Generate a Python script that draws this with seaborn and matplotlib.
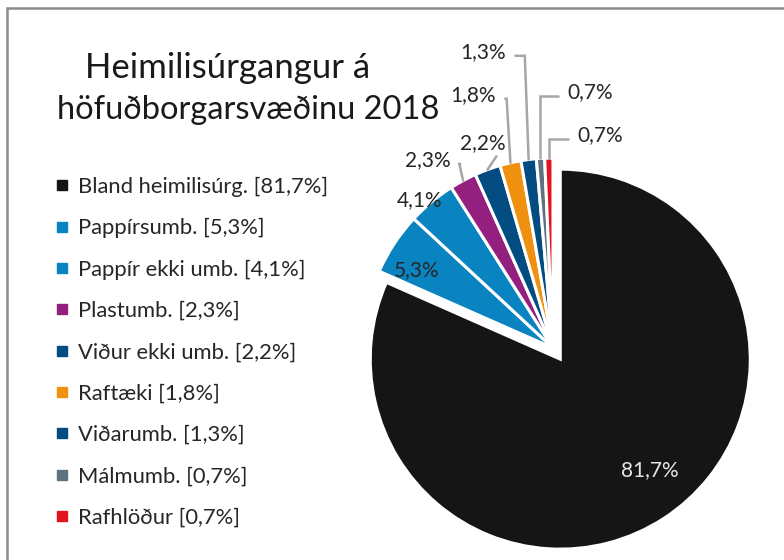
import numpy as np
import matplotlib
matplotlib.use("Agg")
import matplotlib.pyplot as plt
import seaborn as sns
from matplotlib.lines import Line2D
from matplotlib.patches import Rectangle

# ---- data ----
categories = ["Bland heimilisúrg.", "Pappírsumb.", "Pappír ekki umb.", "Plastumb.",
              "Viður ekki umb.", "Raftæki", "Viðarumb.", "Málmumb.", "Rafhlöður"]
values = [81.7, 5.3, 4.1, 2.3, 2.2, 1.8, 1.3, 0.7, 0.7]
value_labels = ["81,7%", "5,3%", "4,1%", "2,3%", "2,2%", "1,8%", "1,3%", "0,7%", "0,7%"]
title_lines = ["Heimilisúrgangur á", "höfuðborgarsvæðinu 2018"]

# ---- styles ----
colors = ["#151515", "#0a84c0", "#0a84c0", "#93207f", "#034c82",
          "#f0900f", "#034c82", "#5d7280", "#e2141f"]
explode = [0.07, 0, 0, 0, 0, 0, 0, 0, 0]
# label placement (data units, pie radius = 1)
label_pos = [(0.51, -0.64), (-0.72, 0.41), (-0.70, 0.78), (-0.658, 0.989),
             (-0.368, 1.079), (-0.421, 1.332), (-0.368, 1.558),
             (0.195, 1.347), (0.247, 1.121)]
leader = [False, False, False, True, True, True, True, True, True]
leader_side = [None, None, None, "right", "bottom", "right", "right", "left", "left"]

sns.set_theme(style="white")
plt.rcParams["font.family"] = ["Lato", "DejaVu Sans"]

W, H = 784, 560
fig = plt.figure(figsize=(W / 100, H / 100), dpi=100)

# frame
fig.patches.append(Rectangle((7 / W, -0.1), 1.2, (H - 8) / H + 0.1, transform=fig.transFigure,
                             fill=False, edgecolor="#8c8c8c", linewidth=1.8))

cx, cy, R = 553, 348, 190
L = 1.5
side = 2 * L * R
ax = fig.add_axes([(cx - side / 2) / W, (H - cy - side / 2) / H, side / W, side / H])
wedges, _ = ax.pie(values, colors=colors, startangle=90, counterclock=False,
                   explode=explode, radius=1,
                   wedgeprops=dict(edgecolor="white", linewidth=2.2))
ax.set_xlim(-L, L)
ax.set_ylim(-L, L)
ax.set_aspect("auto")
ax.axis("off")

for i, (w, lab) in enumerate(zip(wedges, value_labels)):
    x, y = label_pos[i]
    color = "#e6e6e6" if i == 0 else "#262626"
    ax.text(x, y, lab, ha="center", va="center", fontsize=15, color=color)
    if leader[i]:
        th = np.deg2rad((w.theta1 + w.theta2) / 2)
        ex, ey = np.cos(th) * 1.0, np.sin(th) * 1.0
        gap = 0.17
        if leader_side[i] == "right":
            sx, sy = x + gap, y - 0.02
            pts = [(sx, sy), (ex - 0.02, sy), (ex, ey)]
        elif leader_side[i] == "left":
            sx, sy = x - gap, y - 0.02
            pts = [(sx, sy), (ex, sy), (ex, ey)]
        else:
            sx, sy = x + 0.07, y - 0.07
            pts = [(sx, sy), (ex, ey)]
        px, py = zip(*pts)
        ax.plot(px, py, color="#a6a6a6", linewidth=1.8, clip_on=False,
                solid_joinstyle="miter")

# title
fig.text(228 / W, 1 - 68 / H, title_lines[0], ha="center", va="center", fontsize=25, color="#1a1a1a")
fig.text(248 / W, 1 - 110 / H, title_lines[1], ha="center", va="center", fontsize=23.5, color="#1a1a1a")

# legend
handles = [Line2D([], [], marker="s", linestyle="none", markersize=7,
                  markerfacecolor=c, markeredgecolor=c) for c in colors]
labels = [f"{c} [{v}]" for c, v in zip(categories, value_labels)]
leg = fig.legend(handles, labels, loc="upper left", bbox_to_anchor=(44 / W, 1 - 168 / H),
                 frameon=False, fontsize=15.8, labelspacing=0.97, handlelength=0.8,
                 handletextpad=0.35, borderaxespad=0)
for t in leg.get_texts():
    t.set_color("#262626")

fig.savefig("out.png", dpi=100)
